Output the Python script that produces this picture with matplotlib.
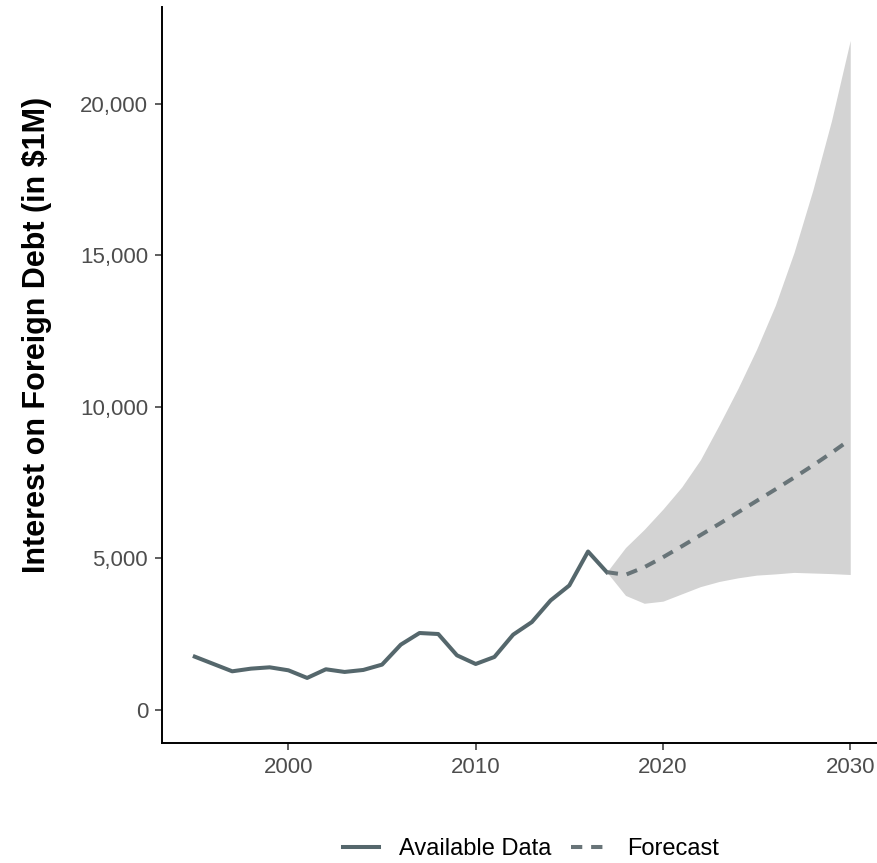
import matplotlib
matplotlib.use("Agg")
import matplotlib.pyplot as plt
from matplotlib.ticker import FuncFormatter

plt.rcParams["font.family"] = ["Liberation Sans", "DejaVu Sans"]

# Observed series
years = list(range(1995, 2018))
interest = [1747, 1505, 1263, 1351, 1395, 1296, 1044, 1330, 1242, 1308,
            1484, 2143, 2528, 2495, 1791, 1505, 1737, 2473, 2890, 3604,
            4099, 5220, 4539]

# Forecast with uncertainty band
fc_years = list(range(2017, 2031))
fc_mean = [4539, 4450, 4700, 5030, 5390, 5760, 6130, 6510, 6890, 7270,
           7660, 8060, 8480, 8920]
fc_lower = [4539, 3770, 3510, 3580, 3820, 4060, 4230, 4350, 4440, 4480,
            4530, 4510, 4490, 4460]
fc_upper = [4539, 5350, 5950, 6620, 7350, 8250, 9400, 10600, 11900, 13350,
            15100, 17150, 19450, 22100]

y_ticks = [0, 5000, 10000, 15000, 20000]
x_ticks = [2000, 2010, 2020, 2030]

W, H = 877, 863
fig = plt.figure(figsize=(W / 100, H / 100), dpi=100)
ax = fig.add_axes([162 / W, (H - 743) / H, (883 - 162) / W, (743 - 7) / H])

ax.fill_between(fc_years, fc_lower, fc_upper, color="#d3d3d3", linewidth=0, zorder=1)
ax.plot(years, interest, color="#55676c", lw=2.9, solid_joinstyle="round",
        label="Available Data", zorder=3)
ax.plot(fc_years, fc_mean, color="#687478", lw=2.9, linestyle=(0, (2.8, 2.2)),
        label="Forecast", zorder=3)

ax.set_xlim(1993.25, 2031.75)
ax.set_ylim(-1105, 23205)
ax.set_xticks(x_ticks)
ax.set_yticks(y_ticks)
ax.yaxis.set_major_formatter(FuncFormatter(lambda v, p: f"{int(v):,}"))

for side in ("top", "right"):
    ax.spines[side].set_visible(False)
for side in ("left", "bottom"):
    ax.spines[side].set_linewidth(1.4)
    ax.spines[side].set_color("black")

ax.tick_params(axis="both", length=5, width=1.1, color="#333333",
               labelsize=16, labelcolor="#4d4d4d", pad=5)

fig.text(37 / W, 1 - 335 / H, "Interest on Foreign Debt (in $1M)",
         rotation=90, ha="center", va="center", fontsize=22,
         fontweight="bold", color="black")

fig.legend(loc="center", bbox_to_anchor=(531 / W, (H - 849) / H),
           ncol=2, frameon=False, fontsize=17, handlelength=1.5,
           columnspacing=0.85, handletextpad=0.85)

fig.savefig("out.png", dpi=100, facecolor="white")
